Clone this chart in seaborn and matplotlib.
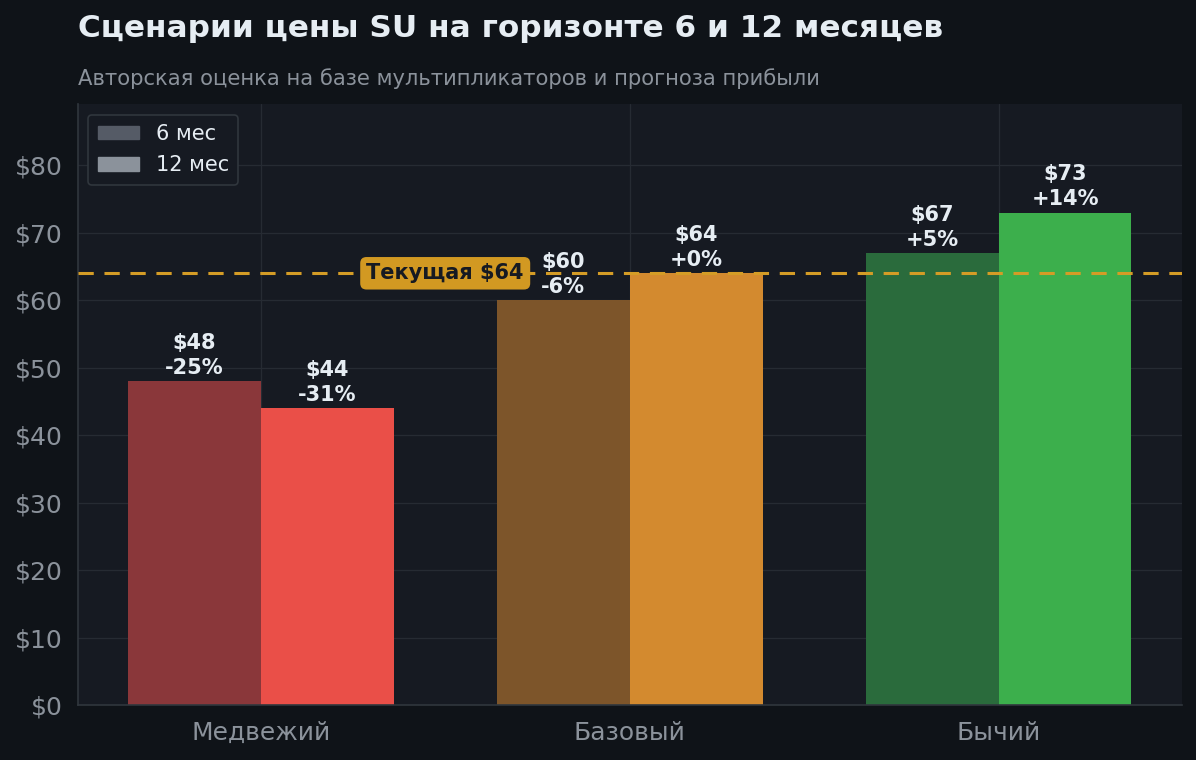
import matplotlib
matplotlib.use("Agg")
import matplotlib.pyplot as plt
from matplotlib.patches import Patch
import pandas as pd
import seaborn as sns

scenarios = ['Медвежий', 'Базовый', 'Бычий']
horizons = ['6 мес', '12 мес']
price_6m = [48, 60, 67]
price_12m = [44, 64, 73]
current_price = 64

colors_6m = ['#8a373a', '#7d552a', '#2a6b3c']
colors_12m = ['#ea4f48', '#d38a2f', '#3caf4c']

BG = '#0f1318'
AX_BG = '#161a22'
TXT = '#e6edf3'
MUTED = '#8b929b'

df = pd.DataFrame({
    'scenario': scenarios * 2,
    'horizon': [horizons[0]] * 3 + [horizons[1]] * 3,
    'price': price_6m + price_12m,
})

sns.set_theme(style='dark')
plt.rcParams['font.family'] = ['DejaVu Sans']

fig, ax = plt.subplots(figsize=(11.96, 7.6), dpi=100)
fig.patch.set_facecolor(BG)
ax.set_facecolor(AX_BG)
fig.subplots_adjust(left=0.065, right=0.988, top=0.863, bottom=0.072)

sns.barplot(data=df, x='scenario', y='price', hue='horizon', order=scenarios,
            hue_order=horizons, width=0.72, gap=0, ax=ax, legend=False,
            linewidth=0, saturation=1)

# recolor each bar by scenario
for cont, cols in zip(ax.containers, [colors_6m, colors_12m]):
    for bar, c in zip(cont, cols):
        bar.set_facecolor(c)
        bar.set_edgecolor('none')
        bar.set_zorder(2)

# value labels
for cont, vals in zip(ax.containers, [price_6m, price_12m]):
    for bar, v in zip(cont, vals):
        pct = (v / current_price - 1) * 100
        ax.text(bar.get_x() + bar.get_width() / 2, v + 0.5,
                f'${v}\n{pct:+.0f}%'.replace('+-', '-'),
                ha='center', va='bottom', fontsize=15, fontweight='bold',
                color=TXT, linespacing=1.32, zorder=5)

ax.axhline(current_price, color='#d49c26', linestyle='--', linewidth=2.2,
           dashes=(5, 3.5), zorder=4)
ax.text(0.5, current_price, f'Текущая ${current_price}', ha='center', va='center',
        fontsize=15, fontweight='bold', color='#161a22', zorder=6,
        bbox=dict(boxstyle='round,pad=0.3', fc='#d29922', ec='none'))

ax.set_xlim(-0.496, 2.496)
ax.set_ylim(0, max(price_12m) * 1.22)
ax.yaxis.set_major_formatter(matplotlib.ticker.FuncFormatter(lambda y, _: f'${y:.0f}'))
ax.set_xlabel('')
ax.set_ylabel('')
ax.tick_params(axis='both', colors=MUTED, labelsize=18, length=5, width=1, pad=6)
ax.grid(True, color='#262b33', linewidth=0.9, zorder=0)
ax.set_axisbelow(True)
for side in ['top', 'right']:
    ax.spines[side].set_visible(False)
for side in ['left', 'bottom']:
    ax.spines[side].set_color('#30363d')
    ax.spines[side].set_linewidth(1.2)

handles = [Patch(color='#555b66', label=horizons[0]),
           Patch(color='#8b929b', label=horizons[1])]
leg = ax.legend(handles=handles, loc='upper left', fontsize=15,
                facecolor=AX_BG, edgecolor='#30363d', labelcolor=TXT,
                framealpha=1, borderpad=0.45, handleheight=0.6,
                labelspacing=0.55, borderaxespad=0.5)
leg.get_frame().set_linewidth(1.2)

fig.text(0.065, 0.962, 'Сценарии цены SU на горизонте 6 и 12 месяцев',
         fontsize=22.4, fontweight='bold', color=TXT, va='center')
fig.text(0.065, 0.897, 'Авторская оценка на базе мультипликаторов и прогноза прибыли',
         fontsize=15.2, color=MUTED, va='center')

fig.savefig('out.png', dpi=100, facecolor=BG)
